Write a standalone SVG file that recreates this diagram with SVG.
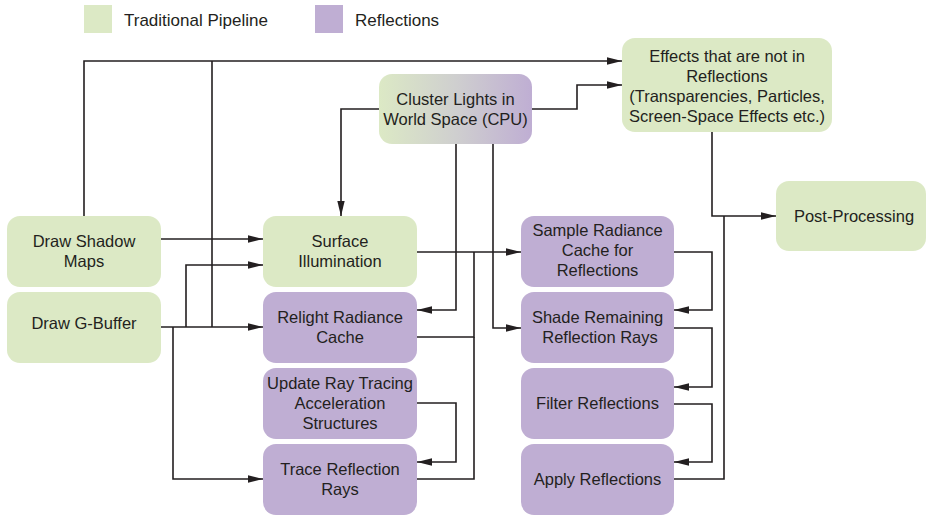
<svg xmlns="http://www.w3.org/2000/svg" width="927" height="518" viewBox="0 0 927 518">
<style>
.g{fill:#dce9c5}
.p{fill:#bfaed3}
.t{font-family:"Liberation Sans",Arial,sans-serif;font-size:16.5px;fill:#231f20;text-anchor:middle}
.lg{font-family:"Liberation Sans",Arial,sans-serif;font-size:17px;fill:#231f20}
.c{fill:none;stroke:#231f20;stroke-width:1.6}
.a{marker-end:url(#ah)}
</style>
<defs>
<marker id="ah" markerUnits="userSpaceOnUse" markerWidth="15" markerHeight="8" refX="15" refY="4" orient="auto">
<path d="M0,0.3 L15,4 L0,7.7 z" fill="#231f20"/>
</marker>
<linearGradient id="cg" x1="0" y1="0" x2="1" y2="0">
<stop offset="0" stop-color="#dce9c5"/>
<stop offset="0.5" stop-color="#cfcfcf"/>
<stop offset="1" stop-color="#bfaed3"/>
</linearGradient>
</defs>
<rect width="927" height="518" fill="#ffffff"/>
<g id="legend">
<rect x="84" y="5" width="28" height="28" class="g"/>
<text x="124" y="26" class="lg">Traditional Pipeline</text>
<rect x="315" y="5" width="28" height="28" class="p"/>
<text x="355" y="26" class="lg">Reflections</text>
</g>
<g id="connectors">
<path class="c a" d="M84,216 V61 H622"/>
<path class="c" d="M212,327 V61"/>
<path class="c a" d="M161,239 H263"/>
<path class="c a" d="M161,327 H263"/>
<path class="c a" d="M186,327 V265 H263"/>
<path class="c a" d="M173,327 V479 H263"/>
<path class="c a" d="M379,109 H341 V216"/>
<path class="c a" d="M532,109 H577 V85 H622"/>
<path class="c a" d="M456,144 V310 H417"/>
<path class="c a" d="M493,144 V328 H521"/>
<path class="c a" d="M417,252 H521"/>
<path class="c" d="M417,337 H474 V252"/>
<path class="c" d="M417,479 H474 V337"/>
<path class="c a" d="M417,403 H456 V462 H417"/>
<path class="c a" d="M674,252 H712 V310 H674"/>
<path class="c a" d="M674,328 H712 V387 H674"/>
<path class="c a" d="M674,404 H712 V462 H674"/>
<path class="c" d="M674,479 H724 V216"/>
<path class="c a" d="M712,132 V216 H776"/>
</g>
<g id="draw-shadow-maps">
<rect x="7" y="216" width="154" height="71" rx="13" class="g"/>
<text x="84" y="247" class="t">Draw Shadow</text>
<text x="84" y="267" class="t">Maps</text>
</g>
<g id="draw-g-buffer">
<rect x="7" y="292" width="154" height="71" rx="13" class="g"/>
<text x="84" y="329" class="t">Draw G-Buffer</text>
</g>
<g id="surface-illumination">
<rect x="263" y="216" width="154" height="71" rx="13" class="g"/>
<text x="340" y="247" class="t">Surface</text>
<text x="340" y="267" class="t">Illumination</text>
</g>
<g id="relight-radiance-cache">
<rect x="263" y="292" width="154" height="71" rx="13" class="p"/>
<text x="340" y="323" class="t">Relight Radiance</text>
<text x="340" y="343" class="t">Cache</text>
</g>
<g id="update-ray-tracing">
<rect x="263" y="368" width="154" height="71" rx="13" class="p"/>
<text x="340" y="389" class="t">Update Ray Tracing</text>
<text x="340" y="409" class="t">Acceleration</text>
<text x="340" y="429" class="t">Structures</text>
</g>
<g id="trace-reflection-rays">
<rect x="263" y="444" width="154" height="71" rx="13" class="p"/>
<text x="340" y="475" class="t">Trace Reflection</text>
<text x="340" y="495" class="t">Rays</text>
</g>
<g id="cluster-lights">
<rect x="379" y="74" width="153" height="70" rx="13" fill="url(#cg)"/>
<text x="455.5" y="105" class="t">Cluster Lights in</text>
<text x="455.5" y="125" class="t">World Space (CPU)</text>
</g>
<g id="effects">
<rect x="622" y="38" width="210" height="94" rx="13" class="g"/>
<text x="727" y="62" class="t">Effects that are not in</text>
<text x="727" y="82" class="t">Reflections</text>
<text x="727" y="102" class="t">(Transparencies, Particles,</text>
<text x="727" y="122" class="t">Screen-Space Effects etc.)</text>
</g>
<g id="post-processing">
<rect x="776" y="181" width="150" height="70" rx="13" class="g"/>
<text x="854" y="222" class="t">Post-Processing</text>
</g>
<g id="sample-radiance-cache">
<rect x="521" y="216" width="153" height="71" rx="13" class="p"/>
<text x="597.5" y="236" class="t">Sample Radiance</text>
<text x="597.5" y="256" class="t">Cache for</text>
<text x="597.5" y="276" class="t">Reflections</text>
</g>
<g id="shade-remaining">
<rect x="521" y="292" width="153" height="71" rx="13" class="p"/>
<text x="597.5" y="323" class="t">Shade Remaining</text>
<text x="600" y="343" class="t">Reflection Rays</text>
</g>
<g id="filter-reflections">
<rect x="521" y="368" width="153" height="71" rx="13" class="p"/>
<text x="597.5" y="409" class="t">Filter Reflections</text>
</g>
<g id="apply-reflections">
<rect x="521" y="444" width="153" height="71" rx="13" class="p"/>
<text x="597.5" y="485" class="t">Apply Reflections</text>
</g>
</svg>
